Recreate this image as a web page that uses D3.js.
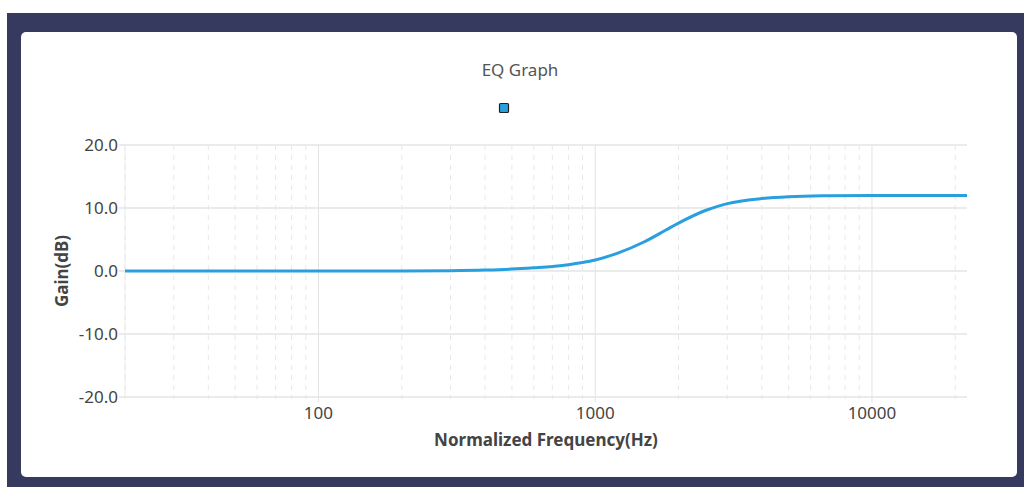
<!DOCTYPE html>
<html><head><meta charset="utf-8">
<script src="https://cdn.jsdelivr.net/npm/d3@7"></script>
<style>
html,body{margin:0;padding:0;background:#fff;}
svg{display:block;font-family:"Noto Sans","Open Sans",sans-serif;}
</style></head>
<body><svg id="c" width="1024" height="487"></svg>
<script>
const title = "EQ Graph";
const xLabel = "Normalized Frequency(Hz)";
const yLabel = "Gain(dB)";
const freqs = [20, 50, 100, 200, 300, 400, 500, 600, 700, 800, 900, 1000, 1200, 1500, 1800, 2000, 2500, 3000, 4000, 5000, 7000, 10000, 22050];
const gains = [0, 0, 0, 0, 0.05, 0.15, 0.3, 0.5, 0.7, 1.0, 1.35, 1.75, 2.8, 4.6, 6.5, 7.6, 9.6, 10.7, 11.5, 11.8, 11.95, 12, 12];
const yTicks = [-20, -10, 0, 10, 20];
const yTickLabels = ["-20.0", "-10.0", "0.0", "10.0", "20.0"];
const xMajorTicks = [100, 1000, 10000];
const xMajorLabels = ["100", "1000", "10000"];
const xMinorTicks = [20,30,40,50,60,70,80,90,200,300,400,500,600,700,800,900,2000,3000,4000,5000,6000,7000,8000,9000,20000];

const svg = d3.select("#c");
// background
svg.append("rect").attr("x",7).attr("y",13).attr("width",1017).attr("height",474).attr("fill","#363a5f");
svg.append("rect").attr("x",21).attr("y",32).attr("width",996).attr("height",445).attr("rx",5).attr("fill","#fff");

const L=125,R=967,T=145,B=397;
const x = d3.scaleLog().domain([20,22050]).range([L,R]);
const y = d3.scaleLinear().domain([-20,20]).range([B,T]);

const g = svg.append("g");
// minor vertical grid
g.selectAll(".vmin").data(xMinorTicks).join("line")
  .attr("x1",d=>x(d)).attr("x2",d=>x(d)).attr("y1",T).attr("y2",B+2)
  .attr("stroke","#e8e8e8").attr("stroke-width",1).attr("stroke-dasharray","5,5");
// major vertical grid
g.selectAll(".vmaj").data(xMajorTicks).join("line")
  .attr("x1",d=>x(d)).attr("x2",d=>x(d)).attr("y1",T).attr("y2",B+5)
  .attr("stroke","#e3e3e3").attr("stroke-width",1);
// horizontal grid
g.selectAll(".h").data(yTicks).join("line")
  .attr("x1",L-6).attr("x2",R).attr("y1",d=>y(d)).attr("y2",d=>y(d))
  .attr("stroke","#e5e5e5").attr("stroke-width",1.3);
// left axis line
g.append("line").attr("x1",L).attr("x2",L).attr("y1",T).attr("y2",B).attr("stroke","#ececec").attr("stroke-width",1);

// y tick labels
g.selectAll(".yl").data(yTicks).join("text")
  .attr("x",L-7).attr("y",d=>y(d)).attr("dy","0.35em").attr("text-anchor","end")
  .attr("font-size",17).attr("fill","#444").text((d,i)=>yTickLabels[i]);
// x tick labels
g.selectAll(".xl").data(xMajorTicks).join("text")
  .attr("x",d=>x(d)).attr("y",B+16).attr("dy","0.35em").attr("text-anchor","middle")
  .attr("font-size",17).attr("fill","#444").text((d,i)=>xMajorLabels[i]);

// line
const data = freqs.map((f,i)=>({f, gdb: gains[i]}));
g.append("path").datum(data)
  .attr("d", d3.line().x(d=>x(d.f)).y(d=>y(d.gdb)).curve(d3.curveMonotoneX))
  .attr("fill","none").attr("stroke","#2a9fdf").attr("stroke-width",3);

// title
svg.append("text").attr("x",520).attr("y",70).attr("dy","0.35em").attr("text-anchor","middle")
  .attr("font-size",17).attr("fill","#555").text(title);
// legend marker
svg.append("rect").attr("x",499.5).attr("y",103.5).attr("width",9).attr("height",9).attr("rx",1)
  .attr("fill","#2a9fdf").attr("stroke","#222").attr("stroke-width",1.2);

// axis labels
svg.append("text").attr("x",(L+R)/2).attr("y",440).attr("dy","0.35em").attr("text-anchor","middle")
  .attr("font-size",17).attr("font-weight","bold").attr("fill","#444").text(xLabel);
svg.append("text").attr("transform",`translate(62,${y(0)}) rotate(-90)`).attr("dy","0.35em").attr("text-anchor","middle")
  .attr("font-size",17).attr("font-weight","bold").attr("fill","#444").text(yLabel);
</script></body></html>
